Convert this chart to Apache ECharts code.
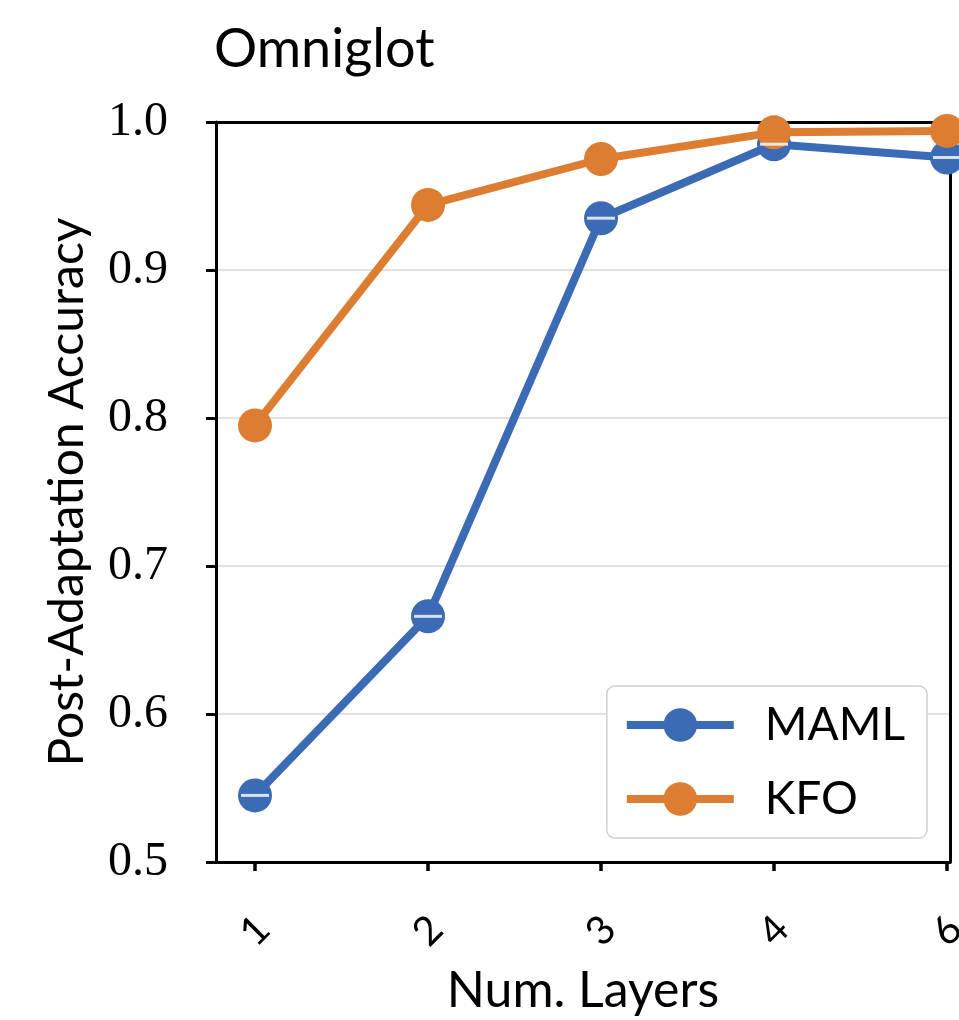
<!DOCTYPE html>
<html>
<head>
<meta charset="utf-8">
<script src="https://cdn.jsdelivr.net/npm/echarts@6/dist/echarts.min.js"></script>
<style>
  html, body { margin: 0; padding: 0; background: #fff; }
  #chart { width: 959px; height: 1020px; }
</style>
</head>
<body>
<div id="chart"></div>
<script>
// layer counts, plotted at evenly spaced positions
const layers = ["1", "2", "3", "4", "6"];
const maml = [0.545, 0.666, 0.935, 0.985, 0.976];
const kfo = [0.795, 0.944, 0.975, 0.993, 0.994];
const yTicks = [0.5, 0.6, 0.7, 0.8, 0.9, 1.0];

const BLUE = "#3a6bb4";
const ORANGE = "#dc7d32";
const SANS = "Lato, 'DejaVu Sans', sans-serif";
const SERIF = "'Liberation Serif', 'DejaVu Serif', serif";

const pts = arr => arr.map((v, i) => [i, v]);
const positions = layers.map((_, i) => i);

const chart = echarts.init(document.getElementById("chart"), null, { renderer: "canvas" });

const frameAxis = {
  axisLine: { show: true, onZero: false, lineStyle: { color: "#000", width: 3 } },
  axisTick: { show: false },
  axisLabel: { show: false },
  splitLine: { show: false },
};

chart.setOption({
  animation: false,
  title: {
    text: "Omniglot",
    left: 209, top: 18,
    textStyle: { fontFamily: SANS, fontSize: 54, fontWeight: "normal", color: "#000" },
  },
  grid: {
    left: 216, top: 122, right: 9, bottom: 158,
    containLabel: false, outerBoundsMode: "none",
  },
  legend: {
    right: 32, top: 686,
    orient: "vertical",
    data: ["MAML", "KFO"],
    itemWidth: 107, itemHeight: 42, itemGap: 28,
    padding: [16, 22, 16, 16],
    backgroundColor: "#fff",
    borderColor: "#d0d0d0", borderWidth: 1.5, borderRadius: 8,
    lineStyle: { width: 8 },
    textStyle: { fontFamily: SANS, fontSize: 46, color: "#000", padding: [0, 0, 0, 26] },
  },
  xAxis: [
    {
      type: "value",
      min: -0.2254, max: 4.017,
      splitLine: { show: false },
      axisLine: { onZero: false, lineStyle: { color: "#000", width: 3 } },
      axisTick: { length: 9, customValues: positions, lineStyle: { color: "#000", width: 3.5 } },
      axisLabel: {
        rotate: 45, margin: 69, align: "center", verticalAlign: "middle",
        fontFamily: SANS, fontSize: 40, color: "#000",
        customValues: positions,
        formatter: v => layers[Math.round(v)] || "",
      },
      name: "Num. Layers",
      nameLocation: "middle", nameGap: 104,
      nameTextStyle: { fontFamily: SANS, fontSize: 50, color: "#000" },
    },
    Object.assign({ type: "value", position: "top", min: -0.2254, max: 4.017 }, frameAxis),
  ],
  yAxis: [
    {
      type: "value",
      min: yTicks[0], max: yTicks[yTicks.length - 1], interval: 0.1,
      axisLine: { show: true, onZero: false, lineStyle: { color: "#000", width: 3 } },
      axisTick: { show: true, length: 10, lineStyle: { color: "#000", width: 3 } },
      splitLine: { show: true, showMinLine: false, showMaxLine: false, lineStyle: { color: "#d9d9d9", width: 1.5 } },
      axisLabel: {
        margin: 48,
        fontFamily: SERIF, fontSize: 48, color: "#000",
        formatter: v => v.toFixed(1),
      },
      name: "Post-Adaptation Accuracy",
      nameLocation: "middle", nameGap: 124,
      nameTextStyle: { fontFamily: SANS, fontSize: 48, color: "#000" },
    },
    Object.assign({ type: "value", position: "right", min: 0.5, max: 1.0 }, frameAxis),
  ],
  series: [
    {
      name: "MAML", type: "line", data: pts(maml),
      symbol: "circle", symbolSize: 34,
      lineStyle: { color: BLUE, width: 8 },
      itemStyle: { color: BLUE },
      z: 2,
    },
    {
      name: "KFO", type: "line", data: pts(kfo),
      symbol: "circle", symbolSize: 34,
      lineStyle: { color: ORANGE, width: 8 },
      itemStyle: { color: ORANGE },
      z: 3,
    },
    {
      // white dash marker drawn over MAML points
      name: "MAML-dash", type: "scatter", data: pts(maml),
      symbol: "rect", symbolSize: [28, 3],
      itemStyle: { color: "#fff" },
      silent: true, z: 4,
    },
  ],
});
</script>
</body>
</html>
